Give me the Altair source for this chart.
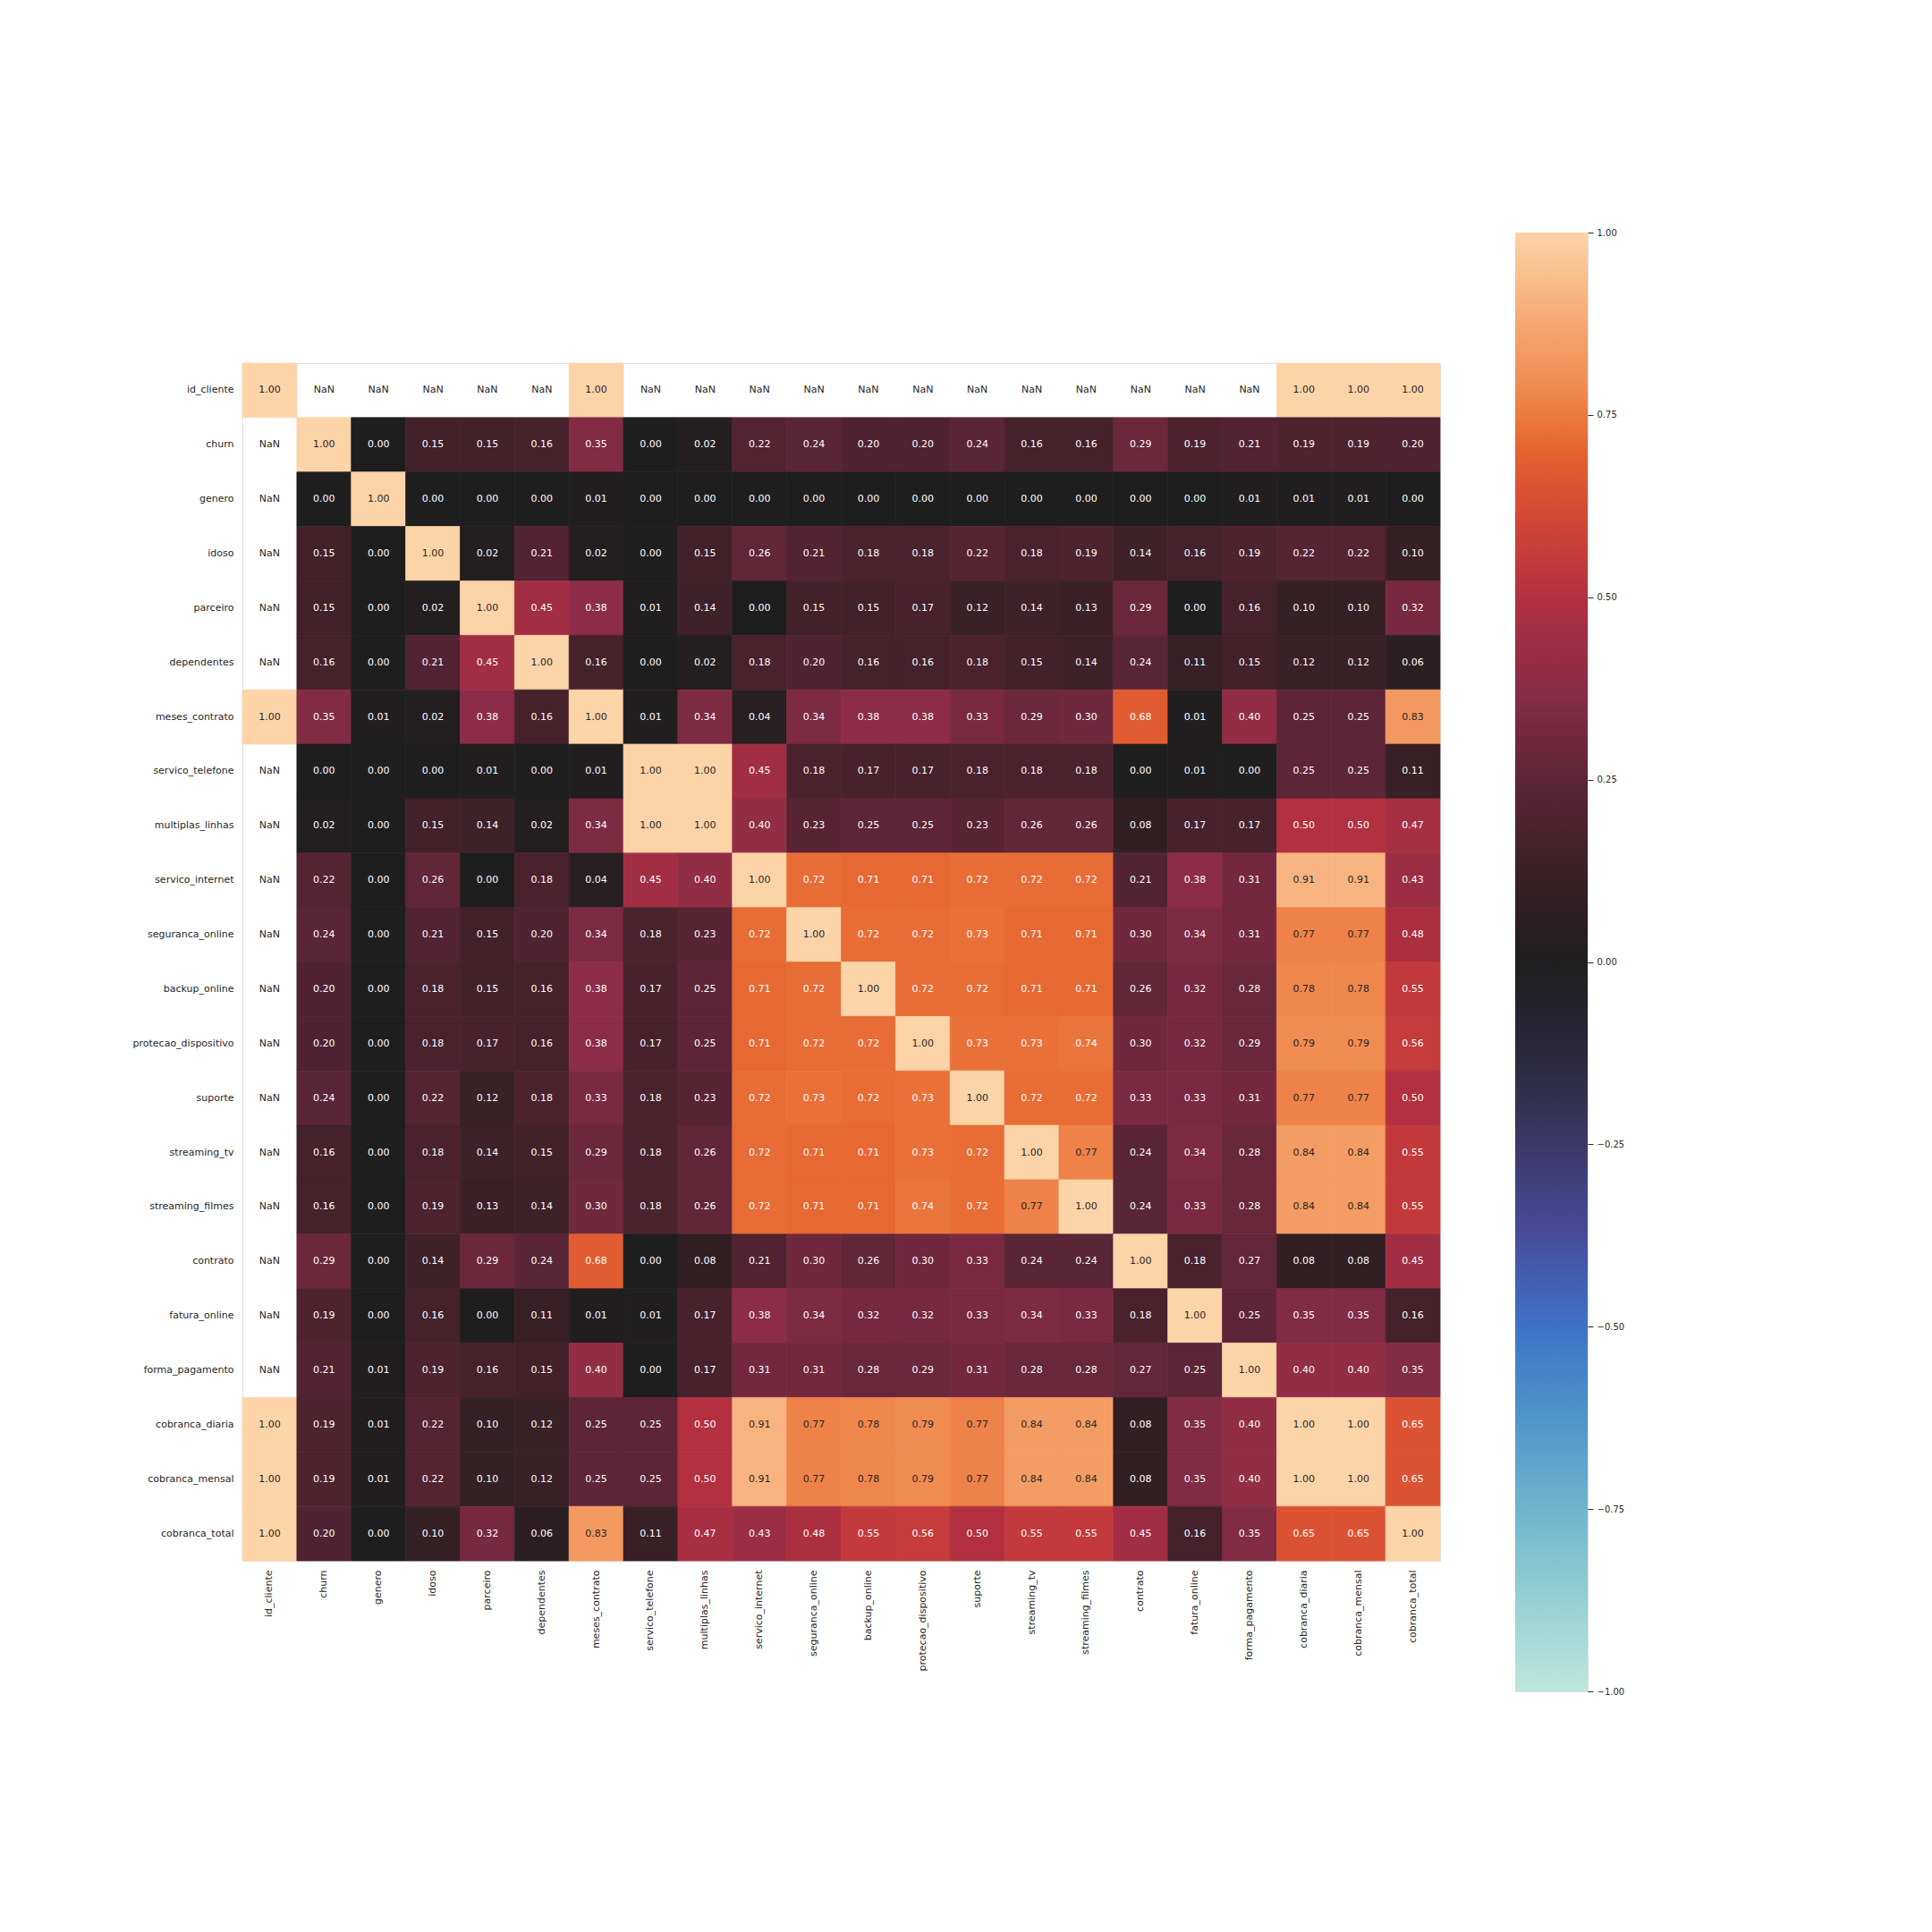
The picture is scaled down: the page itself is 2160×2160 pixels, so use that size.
import altair as alt
import pandas as pd

N = None

labels = ["id_cliente", "churn", "genero", "idoso", "parceiro", "dependentes",
          "meses_contrato", "servico_telefone", "multiplas_linhas", "servico_internet",
          "seguranca_online", "backup_online", "protecao_dispositivo", "suporte",
          "streaming_tv", "streaming_filmes", "contrato", "fatura_online",
          "forma_pagamento", "cobranca_diaria", "cobranca_mensal", "cobranca_total"]

id_cliente = [1.00, N, N, N, N, N, 1.00, N, N, N, N, N, N, N, N, N, N, N, N, 1.00, 1.00, 1.00]
churn = [N, 1.00, 0.00, 0.15, 0.15, 0.16, 0.35, 0.00, 0.02, 0.22, 0.24, 0.20, 0.20, 0.24, 0.16, 0.16, 0.29, 0.19, 0.21, 0.19, 0.19, 0.20]
genero = [N, 0.00, 1.00, 0.00, 0.00, 0.00, 0.01, 0.00, 0.00, 0.00, 0.00, 0.00, 0.00, 0.00, 0.00, 0.00, 0.00, 0.00, 0.01, 0.01, 0.01, 0.00]
idoso = [N, 0.15, 0.00, 1.00, 0.02, 0.21, 0.02, 0.00, 0.15, 0.26, 0.21, 0.18, 0.18, 0.22, 0.18, 0.19, 0.14, 0.16, 0.19, 0.22, 0.22, 0.10]
parceiro = [N, 0.15, 0.00, 0.02, 1.00, 0.45, 0.38, 0.01, 0.14, 0.00, 0.15, 0.15, 0.17, 0.12, 0.14, 0.13, 0.29, 0.00, 0.16, 0.10, 0.10, 0.32]
dependentes = [N, 0.16, 0.00, 0.21, 0.45, 1.00, 0.16, 0.00, 0.02, 0.18, 0.20, 0.16, 0.16, 0.18, 0.15, 0.14, 0.24, 0.11, 0.15, 0.12, 0.12, 0.06]
meses_contrato = [1.00, 0.35, 0.01, 0.02, 0.38, 0.16, 1.00, 0.01, 0.34, 0.04, 0.34, 0.38, 0.38, 0.33, 0.29, 0.30, 0.68, 0.01, 0.40, 0.25, 0.25, 0.83]
servico_telefone = [N, 0.00, 0.00, 0.00, 0.01, 0.00, 0.01, 1.00, 1.00, 0.45, 0.18, 0.17, 0.17, 0.18, 0.18, 0.18, 0.00, 0.01, 0.00, 0.25, 0.25, 0.11]
multiplas_linhas = [N, 0.02, 0.00, 0.15, 0.14, 0.02, 0.34, 1.00, 1.00, 0.40, 0.23, 0.25, 0.25, 0.23, 0.26, 0.26, 0.08, 0.17, 0.17, 0.50, 0.50, 0.47]
servico_internet = [N, 0.22, 0.00, 0.26, 0.00, 0.18, 0.04, 0.45, 0.40, 1.00, 0.72, 0.71, 0.71, 0.72, 0.72, 0.72, 0.21, 0.38, 0.31, 0.91, 0.91, 0.43]
seguranca_online = [N, 0.24, 0.00, 0.21, 0.15, 0.20, 0.34, 0.18, 0.23, 0.72, 1.00, 0.72, 0.72, 0.73, 0.71, 0.71, 0.30, 0.34, 0.31, 0.77, 0.77, 0.48]
backup_online = [N, 0.20, 0.00, 0.18, 0.15, 0.16, 0.38, 0.17, 0.25, 0.71, 0.72, 1.00, 0.72, 0.72, 0.71, 0.71, 0.26, 0.32, 0.28, 0.78, 0.78, 0.55]
protecao_dispositivo = [N, 0.20, 0.00, 0.18, 0.17, 0.16, 0.38, 0.17, 0.25, 0.71, 0.72, 0.72, 1.00, 0.73, 0.73, 0.74, 0.30, 0.32, 0.29, 0.79, 0.79, 0.56]
suporte = [N, 0.24, 0.00, 0.22, 0.12, 0.18, 0.33, 0.18, 0.23, 0.72, 0.73, 0.72, 0.73, 1.00, 0.72, 0.72, 0.33, 0.33, 0.31, 0.77, 0.77, 0.50]
streaming_tv = [N, 0.16, 0.00, 0.18, 0.14, 0.15, 0.29, 0.18, 0.26, 0.72, 0.71, 0.71, 0.73, 0.72, 1.00, 0.77, 0.24, 0.34, 0.28, 0.84, 0.84, 0.55]
streaming_filmes = [N, 0.16, 0.00, 0.19, 0.13, 0.14, 0.30, 0.18, 0.26, 0.72, 0.71, 0.71, 0.74, 0.72, 0.77, 1.00, 0.24, 0.33, 0.28, 0.84, 0.84, 0.55]
contrato = [N, 0.29, 0.00, 0.14, 0.29, 0.24, 0.68, 0.00, 0.08, 0.21, 0.30, 0.26, 0.30, 0.33, 0.24, 0.24, 1.00, 0.18, 0.27, 0.08, 0.08, 0.45]
fatura_online = [N, 0.19, 0.00, 0.16, 0.00, 0.11, 0.01, 0.01, 0.17, 0.38, 0.34, 0.32, 0.32, 0.33, 0.34, 0.33, 0.18, 1.00, 0.25, 0.35, 0.35, 0.16]
forma_pagamento = [N, 0.21, 0.01, 0.19, 0.16, 0.15, 0.40, 0.00, 0.17, 0.31, 0.31, 0.28, 0.29, 0.31, 0.28, 0.28, 0.27, 0.25, 1.00, 0.40, 0.40, 0.35]
cobranca_diaria = [1.00, 0.19, 0.01, 0.22, 0.10, 0.12, 0.25, 0.25, 0.50, 0.91, 0.77, 0.78, 0.79, 0.77, 0.84, 0.84, 0.08, 0.35, 0.40, 1.00, 1.00, 0.65]
cobranca_mensal = [1.00, 0.19, 0.01, 0.22, 0.10, 0.12, 0.25, 0.25, 0.50, 0.91, 0.77, 0.78, 0.79, 0.77, 0.84, 0.84, 0.08, 0.35, 0.40, 1.00, 1.00, 0.65]
cobranca_total = [1.00, 0.20, 0.00, 0.10, 0.32, 0.06, 0.83, 0.11, 0.47, 0.43, 0.48, 0.55, 0.56, 0.50, 0.55, 0.55, 0.45, 0.16, 0.35, 0.65, 0.65, 1.00]

matrix_rows = [id_cliente, churn, genero, idoso, parceiro, dependentes, meses_contrato,
               servico_telefone, multiplas_linhas, servico_internet, seguranca_online,
               backup_online, protecao_dispositivo, suporte, streaming_tv, streaming_filmes,
               contrato, fatura_online, forma_pagamento, cobranca_diaria, cobranca_mensal,
               cobranca_total]

# colour map (icefire-like), value -> colour
cmap_values = [-1.0, -0.875, -0.75, -0.625, -0.5, -0.375, -0.25, -0.125, 0.0,
               0.125, 0.25, 0.375, 0.5, 0.55, 0.625, 0.7, 0.75, 0.8, 0.875, 1.0]
cmap_colors = ["#bde7db", "#95d0d3", "#6fb4cd", "#4d96ca", "#3f72c7", "#474c9c",
               "#3c3866", "#2a283b", "#1f1e1f", "#3b2027", "#5d2537", "#8a2c48",
               "#b2303f", "#c23a3c", "#d84b35", "#e4632f", "#ec7a3f", "#f18f55",
               "#f5a870", "#fdd3a8"]
cbar_ticks = [-1.0, -0.75, -0.5, -0.25, 0.0, 0.25, 0.5, 0.75, 1.0]

records = []
for rname, rvals in zip(labels, matrix_rows):
    for cname, v in zip(labels, rvals):
        records.append({"row": rname, "col": cname, "value": v})
df = pd.DataFrame(records)

TXT = "#262626"
band = alt.Scale(paddingInner=0, paddingOuter=0)
cscale = alt.Scale(domain=cmap_values, range=cmap_colors, interpolate="rgb")

base = alt.Chart(df).encode(
    x=alt.X("col:N", sort=labels, scale=band,
            axis=alt.Axis(title=None, labelAngle=-90, ticks=False, tickSize=0, domain=False,
                          grid=False, labelPadding=10, labelFontSize=11, labelColor=TXT)),
    y=alt.Y("row:N", sort=labels, scale=band,
            axis=alt.Axis(title=None, ticks=False, tickSize=0, domain=False,
                          grid=False, labelPadding=10, labelFontSize=11, labelColor=TXT)),
)

rects = base.mark_rect(strokeWidth=0.7).encode(
    color=alt.Color("value:Q", scale=cscale, legend=None),
    stroke=alt.Stroke("value:Q", scale=cscale, legend=None),
).transform_filter("isValid(datum.value)")

texts = base.transform_calculate(
    label="isValid(datum.value) ? format(datum.value, '.2f') : 'NaN'"
).mark_text(fontSize=11).encode(
    text="label:N",
    color=alt.condition("!isValid(datum.value) || datum.value > 0.75",
                        alt.value(TXT), alt.value("#ffffff")),
)

heat = (rects + texts).properties(width=1339, height=1339)

grad = alt.Gradient(
    gradient="linear",
    stops=[alt.GradientStop(color=c, offset=(v + 1) / 2) for v, c in zip(cmap_values, cmap_colors)],
    x1=0, x2=0, y1=1, y2=0,
)

cbar = alt.Chart(pd.DataFrame({"lo": [-1.0], "hi": [1.0]})).mark_rect(color=grad).encode(
    x=alt.value(0), x2=alt.value(81),
    y=alt.Y("lo:Q", scale=alt.Scale(domain=[-1, 1], nice=False, zero=False),
            axis=alt.Axis(orient="right", values=cbar_ticks, format=".2f", title=None,
                          grid=False, domain=False, tickSize=6, tickWidth=1, tickColor=TXT,
                          labelPadding=4, labelFontSize=10, labelColor=TXT)),
    y2="hi:Q",
).properties(width=81, height=1631)

chart = alt.hconcat(heat, cbar, spacing=84, bounds="flush", center=True).properties(
    padding={"left": 147, "top": 254, "right": 10, "bottom": 10},
).configure_view(stroke="transparent", strokeWidth=0).configure(font="DejaVu Sans", background="white")

chart.save("out.html", embed_options={"renderer": "svg", "actions": False})
